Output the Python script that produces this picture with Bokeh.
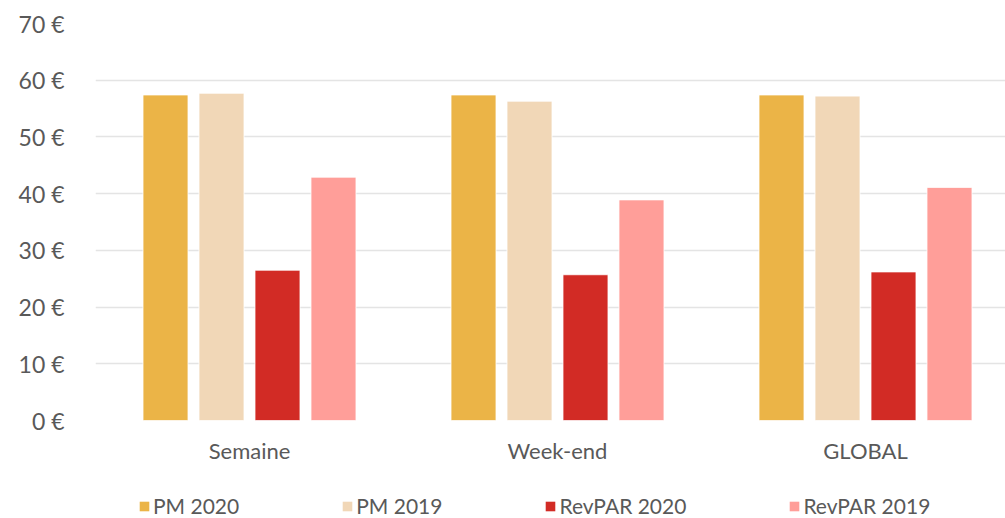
from bokeh.plotting import figure
from bokeh.layouts import column
from bokeh.models import ColumnDataSource, Range1d, FixedTicker, Legend, LegendItem
from bokeh.transform import dodge
from bokeh.embed import file_html
from bokeh.resources import INLINE

categories = ["Semaine", "Week-end", "GLOBAL"]
series_names = ["PM 2020", "PM 2019", "RevPAR 2020", "RevPAR 2019"]
pm_2020 = [57.4, 57.4, 57.4]
pm_2019 = [57.7, 56.3, 57.2]
revpar_2020 = [26.5, 25.7, 26.2]
revpar_2019 = [42.9, 38.9, 41.1]
y_ticks = [0, 10, 20, 30, 40, 50, 60, 70]
colors = ["#EBB447", "#F1D7B7", "#D22B25", "#FF9E99"]

xs = [i + 0.5 for i in range(len(categories))]
source = ColumnDataSource(dict(
    x=xs, cat=categories,
    pm_2020=pm_2020, pm_2019=pm_2019,
    revpar_2020=revpar_2020, revpar_2019=revpar_2019,
))

FONT = "Lato"
TEXT = "#595959"

p = figure(
    output_backend="svg", toolbar_location=None,
    width=1005, height=470,
    min_border_left=95, min_border_right=0, min_border_top=23, min_border_bottom=50,
    x_range=Range1d(0, 910 / 308), y_range=Range1d(0, 70),
    outline_line_color=None,
)

cols = ["pm_2020", "pm_2019", "revpar_2020", "revpar_2019"]
offsets = [-0.2727, -0.0909, 0.0909, 0.2727]
for col, off, c in zip(cols, offsets, colors):
    p.vbar(x=dodge("x", off), top=col, width=45 / 308, source=source,
           fill_color=c, line_color="white", line_width=0.8)

# axes
p.xaxis.ticker = FixedTicker(ticks=xs)
p.xaxis.major_label_overrides = {x: c for x, c in zip(xs, categories)}
p.xaxis.axis_line_color = None
p.xaxis.major_tick_line_color = None
p.xaxis.minor_tick_line_color = None
p.xaxis.major_label_text_font = FONT
p.xaxis.major_label_text_font_size = "22px"
p.xaxis.major_label_text_color = TEXT
p.xaxis.major_label_standoff = 10

p.yaxis.ticker = FixedTicker(ticks=y_ticks)
p.yaxis.major_label_overrides = {t: f"{t} €" for t in y_ticks}
p.yaxis.axis_line_color = None
p.yaxis.major_tick_line_color = None
p.yaxis.minor_tick_line_color = None
p.yaxis.major_label_text_font = FONT
p.yaxis.major_label_text_font_size = "23px"
p.yaxis.major_label_text_color = TEXT
p.yaxis.major_label_standoff = 25

p.xgrid.grid_line_color = None
p.ygrid.grid_line_color = "#E4E4E4"
p.ygrid.grid_line_width = 1.3

# legend strip (its glyphs sit outside the visible y-range; only the legend shows)
p2 = figure(
    output_backend="svg", toolbar_location=None,
    width=1005, height=48,
    min_border_left=0, min_border_right=0, min_border_top=0, min_border_bottom=0,
    x_range=Range1d(0, 910 / 308), y_range=Range1d(1000, 1001),
    x_axis_location=None, y_axis_location=None,
    outline_line_color=None,
)
p2.xgrid.grid_line_color = None
p2.ygrid.grid_line_color = None
leg_renderers = []
for col, off, c in zip(cols, offsets, colors):
    r = p2.vbar(x=dodge("x", off), top=col, width=45 / 308, source=source,
                fill_color=c, line_color=None)
    leg_renderers.append(r)

legend = Legend(
    items=[LegendItem(label=n, renderers=[r]) for n, r in zip(series_names, leg_renderers)],
    orientation="horizontal", location=(43, 0),
    label_text_font=FONT, label_text_font_size="21px", label_text_color=TEXT,
    glyph_width=12, glyph_height=12, label_standoff=3, spacing=102,
    padding=0, margin=0, border_line_color=None, background_fill_alpha=0,
)
p2.add_layout(legend, "center")

layout = column(p, p2, spacing=0)
open("out.html", "w").write(file_html(layout, INLINE))
